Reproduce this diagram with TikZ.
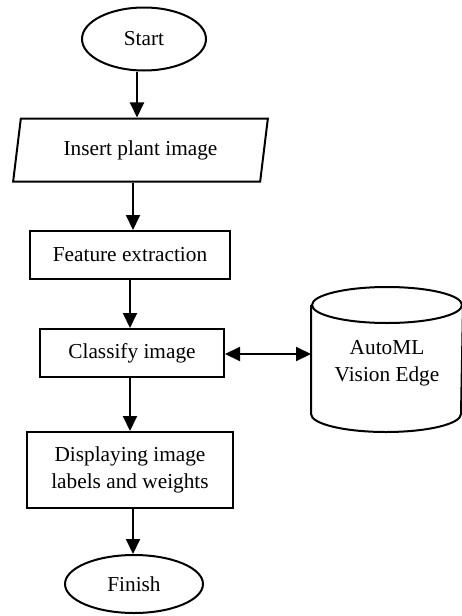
\documentclass[tikz,border=0pt]{standalone}
\usepackage{fontspec}
\setmainfont{Liberation Serif}
\usetikzlibrary{shapes.geometric,arrows.meta}
\begin{document}
\begin{tikzpicture}[x=1pt,y=1pt,
  every node/.style={font=\fontsize{21.3}{27}\selectfont, line width=2pt, inner sep=0pt, align=center},
  term/.style={draw, ellipse},
  proc/.style={draw, rectangle},
  io/.style={draw, trapezium, trapezium left angle=75.7, trapezium right angle=104.3, trapezium stretches=true},
  arr/.style={line width=2pt, -{Triangle[length=15pt,width=14pt]}},
  darr/.style={line width=2pt, {Triangle[length=15pt,width=14pt]}-{Triangle[length=15pt,width=14pt]}}
]
\useasboundingbox (0,0) rectangle (462,-616);
\node[term, minimum width=124, minimum height=63] (start) at (144,-39) {Start};
\node[io, minimum width=255, minimum height=63] (ins) at (140.5,-150) {Insert plant image};
\node[proc, minimum width=200, minimum height=48] (feat) at (130,-255) {Feature extraction};
\node[proc, minimum width=184, minimum height=48] (cls) at (132,-353) {Classify image};
\node[proc, minimum width=206, minimum height=76] (disp) at (130,-470) {Displaying image\\labels and weights};
\node[term, minimum width=138, minimum height=58] (fin) at (134,-584) {Finish};
% cylinder
\node[minimum width=150, minimum height=145] (db) at (387,-363) {AutoML\\Vision Edge};
\draw[line width=2pt] (db.west |- 0,-305) -- (db.west |- 0,-414)
  arc[start angle=180, end angle=360, x radius=75pt, y radius=18pt] -- (db.east |- 0,-305);
\draw[line width=2pt] (387,-305) ellipse[x radius=75pt, y radius=18pt];
% connectors
\draw[arr] (start.south -| 137,0) -- (ins.north -| 137,0);
\draw[arr] (ins.south -| 133,0) -- (feat.north -| 133,0);
\draw[arr] (feat.south -| 130,0) -- (cls.north -| 130,0);
\draw[arr] (cls.south -| 130,0) -- (disp.north -| 130,0);
\draw[arr] (disp.south -| 133,0) -- (fin.north -| 133,0);
\draw[darr] (cls.east |- 0,-354) -- (db.west |- 0,-354);
\end{tikzpicture}
\end{document}
